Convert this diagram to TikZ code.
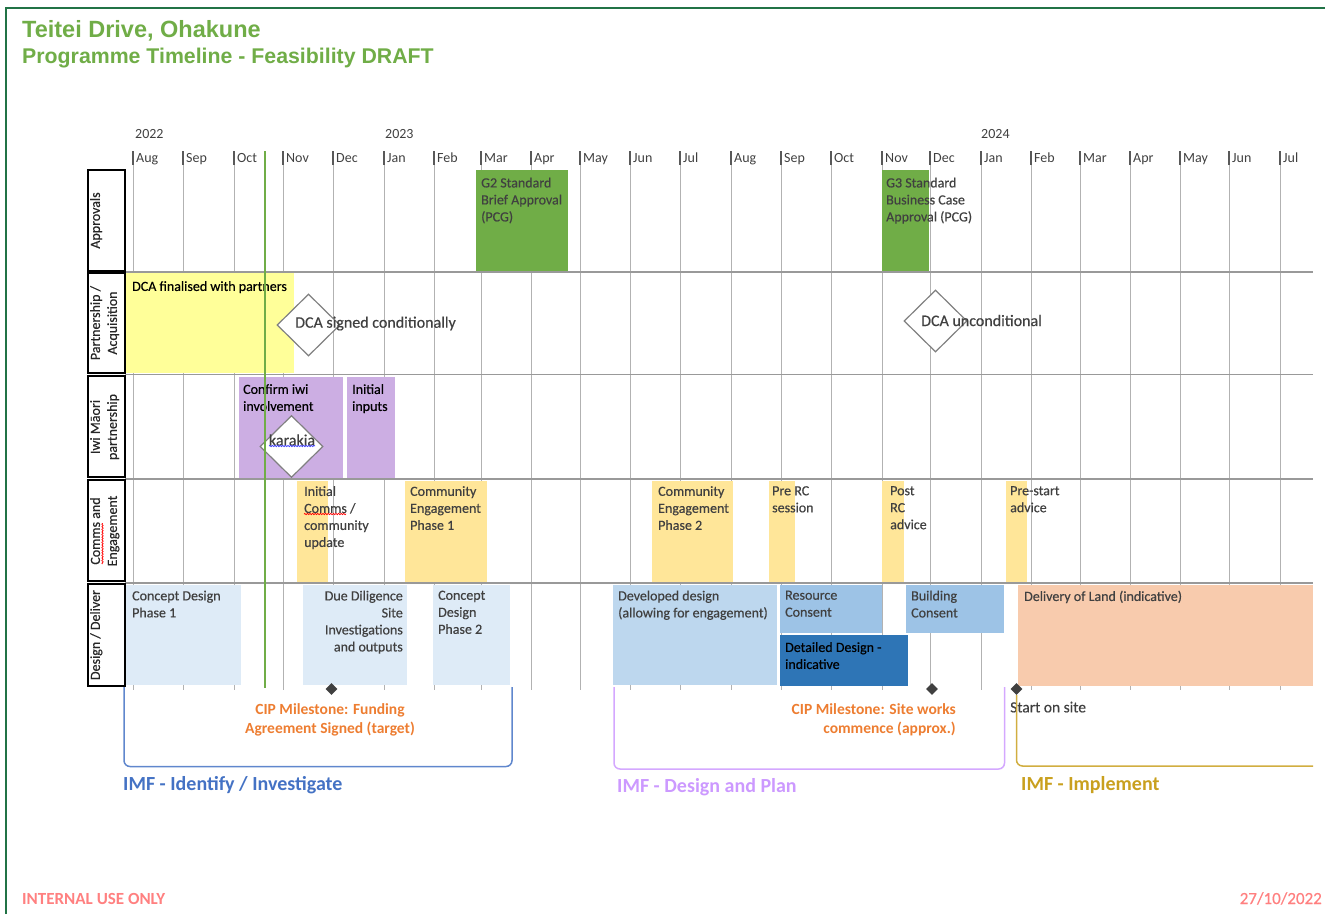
\documentclass[tikz,border=0pt]{standalone}
\usepackage{xcolor}
\usepackage{fontspec}
\setmainfont{Carlito}
\newfontfamily\headfont{Liberation Sans}
\newfontfamily\taskfont{Carlito}[FakeBold=0.4]
\usetikzlibrary{shapes,positioning,calc,decorations.pathmorphing}

% Palette
\definecolor{framegreen}{RGB}{33,115,70}
\definecolor{leafgreen}{RGB}{112,173,71}
\definecolor{ink}{RGB}{64,64,64}
\definecolor{dcayellow}{RGB}{255,255,153}
\definecolor{iwipurple}{RGB}{204,174,227}
\definecolor{commsamber}{RGB}{255,230,153}
\definecolor{conceptblue}{RGB}{222,235,247}
\definecolor{softblue}{RGB}{189,215,238}
\definecolor{consentblue}{RGB}{157,195,230}
\definecolor{deepblue}{RGB}{46,117,182}
\definecolor{landpeach}{RGB}{248,203,173}
\definecolor{ciporange}{RGB}{237,125,49}
\definecolor{imfblue}{RGB}{68,114,196}
\definecolor{imfpurple}{RGB}{204,153,255}
\definecolor{imfgold}{RGB}{201,160,30}
\definecolor{alertred}{RGB}{255,128,128}

\tikzset{
    monthline/.style={draw=black!30, line width=1pt},
    monthtick/.style={draw=black!65, line width=1.4pt},
    monthname/.style={anchor=base west, inner sep=0pt, text=ink, font=\fontsize{14}{17}\selectfont},
    rowline/.style={draw=black!40, line width=1.4pt},
    rowbox/.style={draw=black, line width=1.4pt},
    rowname/.style={rotate=90, anchor=north, inner sep=0pt, align=center, text=black!85, font=\taskfont\fontsize{14}{17}\selectfont},
    task/.style={anchor=north west, inner sep=0pt, align=left, text=ink, font=\taskfont\fontsize{14}{17}\selectfont},
    decision/.style={diamond, draw=black!50, fill=white, line width=1.2pt, minimum width=63pt, minimum height=62pt, inner sep=0pt},
    gatetext/.style={anchor=west, inner sep=0pt, text=ink, font=\taskfont\fontsize{16}{19}\selectfont},
    keydate/.style={diamond, fill=black!75, minimum width=12pt, minimum height=12pt, inner sep=0pt},
    cipnote/.style={inner sep=0pt, text=ciporange, font=\bfseries\fontsize{15.5}{19}\selectfont},
    phase/.style={line width=1.5pt, rounded corners=6pt},
    imfname/.style={anchor=base west, inner sep=0pt, font=\bfseries\fontsize{20}{24}\selectfont},
    spell/.style={decorate, decoration={snake, amplitude=0.7pt, segment length=2.6pt}, line width=0.7pt},
}

\begin{document}
\begin{tikzpicture}[x=1pt, y=-1pt]
    \useasboundingbox (0,0) rectangle (1325,914);

    % Page frame and heading
    \draw[framegreen, line width=1.5pt] (6,914) -- (6,8) -- (1325,8);
    \node[anchor=base west, inner sep=0pt, text=leafgreen, font=\headfont\bfseries\fontsize{23.5}{28}\selectfont] (title) at (22,37) {Teitei Drive, Ohakune};
    \node[anchor=base west, inner sep=0pt, text=leafgreen, font=\headfont\bfseries\fontsize{21.3}{26}\selectfont] (subtitle) at (22,63.5) {Programme Timeline - Feasibility DRAFT};

    % Time axis
    \foreach \x/\yr in {135/2022, 385/2023, 981/2024}
        \node[monthname] (y\yr) at (\x,138) {\yr};
    \foreach \x/\m [count=\i] in {133/Aug, 183/Sep, 234/Oct, 283/Nov, 333/Dec, 384/Jan, 434/Feb, 481/Mar, 531/Apr, 580/May, 630/Jun, 680/Jul,
                                  731/Aug, 781/Sep, 831/Oct, 882/Nov, 930/Dec, 981/Jan, 1031/Feb, 1080/Mar, 1130/Apr, 1180/May, 1229/Jun, 1280/Jul} {
        \draw[monthline] (\x,165) -- (\x,690);
        \draw[monthtick] (\x,151) -- (\x,165);
        \node[monthname] (m\i) at (\x+3,162) {\m};
    }
    \foreach \y in {272, 374.5, 479, 583}
        \draw[rowline] (125,\y) -- (1313,\y);

    % Swimlane headers
    \draw[rowbox] (88,170) rectangle (125,271);
    \draw[rowbox] (88,273) rectangle (125,373);
    \draw[rowbox] (88,376) rectangle (125,477);
    \draw[rowbox] (88,480) rectangle (125,581);
    \draw[rowbox] (88,584) rectangle (125,686);
    \node[rowname] (approvals) at (90,220.5) {Approvals};
    \node[rowname] (partnership) at (90,323) {Partnership /\\Acquisition};
    \node[rowname] (iwi) at (90,427) {Iwi Māori\\partnership};
    \node[rowname] (comms) at (90,531) {Comms and\\Engagement};
    \node[rowname] (design) at (90,635) {Design / Deliver};
    \draw[spell, red] (102.5,564) -- (102.5,523);

    % Approvals
    \fill[leafgreen] (476,170) rectangle (568,271);
    \fill[leafgreen] (882,170) rectangle (929,271);
    \node[task] (g2) at (481,177.5) {G2 Standard\\Brief Approval\\(PCG)};
    \node[task] (g3) at (886,177.5) {G3 Standard\\Business Case\\Approval (PCG)};

    % Partnership / Acquisition
    \fill[dcayellow] (126,273) rectangle (294,373);
    \node[task, text=black] (finalised) at (132,281) {DCA finalised with partners};
    \node[decision] (signed) at (308.5,325) {};
    \node[gatetext] (signedtxt) at (295,323.5) {DCA signed conditionally};
    \node[decision] (uncond) at (935.5,321) {};
    \node[gatetext] (uncondtxt) at (921,320.5) {DCA unconditional};

    % Iwi Maori partnership
    \fill[iwipurple] (239,377) rectangle (342.5,478);
    \fill[iwipurple] (347,377) rectangle (395,478);
    \node[task, text=black] (confirm) at (243,384) {Confirm iwi\\involvement};
    \node[task, text=black] (inputs) at (352,384) {Initial\\inputs};
    \node[decision] (karakia) at (291.5,446.5) {};
    \node[gatetext, anchor=center] (karakiatxt) at (292,440) {karakia};
    \draw[spell, blue!75] (269,446) -- (315,446);

    % Comms and Engagement
    \fill[commsamber] (297,481) rectangle (328,582);
    \fill[commsamber] (405,481) rectangle (487,582);
    \fill[commsamber] (652,481) rectangle (733,582);
    \fill[commsamber] (769,481) rectangle (795,582);
    \fill[commsamber] (882,481) rectangle (904,582);
    \fill[commsamber] (1006,481) rectangle (1027,582);
    \node[task] (update) at (304,486) {Initial\\Comms /\\community\\update};
    \draw[spell, red] (304,514) -- (346,514);
    \node[task] (engage1) at (410,486) {Community\\Engagement\\Phase 1};
    \node[task] (engage2) at (658,486) {Community\\Engagement\\Phase 2};
    \node[task] (prerc) at (772,486) {Pre RC\\session};
    \node[task] (postrc) at (890,486) {Post\\RC\\advice};
    \node[task] (prestart) at (1010,486) {Pre-start\\advice};

    % Design / Deliver
    \fill[conceptblue] (126,585) rectangle (241,685);
    \fill[conceptblue] (303,585) rectangle (407,685);
    \fill[conceptblue] (433,585) rectangle (510,685);
    \fill[softblue] (613,585) rectangle (777,685);
    \fill[consentblue] (780,585) rectangle (882,633);
    \fill[deepblue] (780,635) rectangle (908,686);
    \fill[consentblue] (906,585) rectangle (1004,633);
    \fill[landpeach] (1018,585) rectangle (1313,686);
    \node[task] (concept1) at (132,590.5) {Concept Design\\Phase 1};
    \node[task, anchor=north east, align=right] (diligence) at (403,590.5) {Due Diligence\\Site\\Investigations\\and outputs};
    \node[task] (concept2) at (438,590.5) {Concept\\Design\\Phase 2};
    \node[task] (developed) at (618,590.5) {Developed design\\(allowing for engagement)};
    \node[task] (resource) at (785,590.5) {Resource\\Consent};
    \node[task, text=black] (detailed) at (785,642) {Detailed Design -\\indicative};
    \node[task] (building) at (911,590.5) {Building\\Consent};
    \node[task] (delivery) at (1024,590.5) {Delivery of Land (indicative)};

    % Today
    \draw[leafgreen, line width=1.2pt] (265,151) -- (265,688);

    % Milestones
    \node[keydate] (funding) at (331.5,689) {};
    \node[keydate] (siteworks) at (932,689) {};
    \node[keydate] (start) at (1016.5,689) {};
    \node[cipnote, anchor=north, align=center] (fundingtxt) at (330,703.5) {CIP Milestone: Funding\\Agreement Signed (target)};
    \node[cipnote, anchor=north east, align=right] (siteworkstxt) at (956,703.5) {CIP Milestone: Site works\\commence (approx.)};
    \node[anchor=north west, inner sep=0pt, text=ink, font=\taskfont\fontsize{15.5}{19}\selectfont] (starttxt) at (1010,701.5) {Start on site};

    % IMF phases
    \draw[phase, imfblue!85] (124,687) -- (124,766.5) -- (512,766.5) -- (512,687);
    \draw[phase, imfpurple!85] (614,687) -- (614,769) -- (1004.5,769) -- (1004.5,687);
    \draw[phase, imfgold!85] (start.south) |- (1313,766);
    \node[imfname, text=imfblue] (identify) at (123,790) {IMF - Identify / Investigate};
    \node[imfname, text=imfpurple] (plan) at (617,792.5) {IMF - Design and Plan};
    \node[imfname, text=imfgold] (implement) at (1021,790) {IMF - Implement};

    % Footer
    \node[anchor=base west, inner sep=0pt, text=alertred, font=\bfseries\fontsize{17}{20}\selectfont] (internal) at (22,904) {INTERNAL USE ONLY};
    \node[anchor=base east, inner sep=0pt, text=alertred, font=\taskfont\fontsize{17}{20}\selectfont] (date) at (1322,904) {27/10/2022};
\end{tikzpicture}
\end{document}
